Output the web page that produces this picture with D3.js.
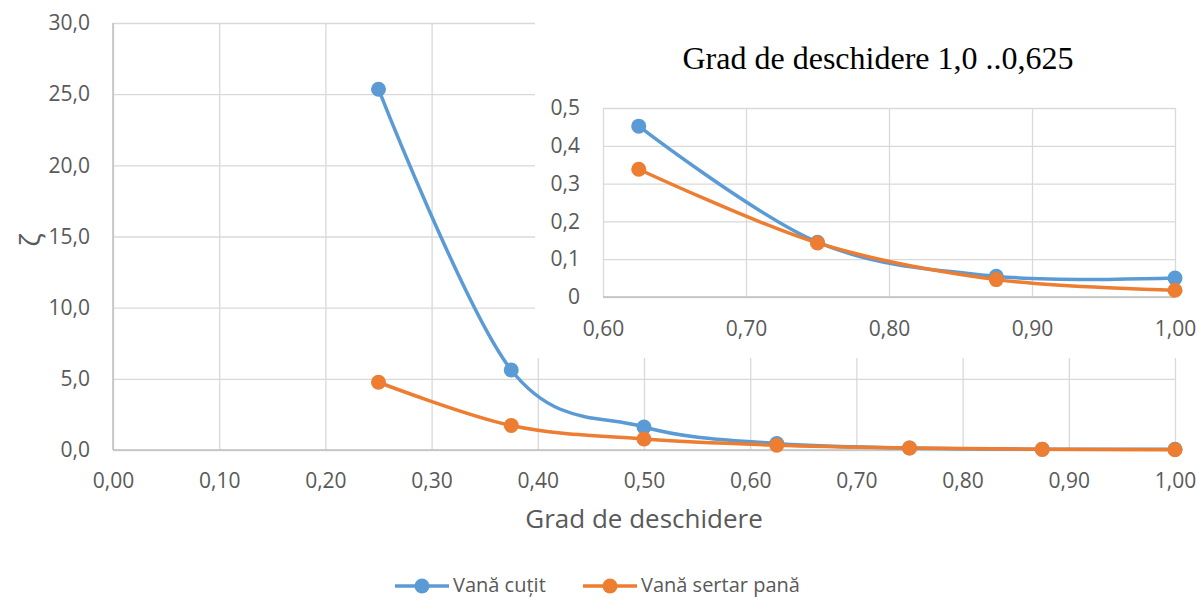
<!DOCTYPE html>
<html>
<head>
<meta charset="utf-8">
<script src="https://cdn.jsdelivr.net/npm/d3@7"></script>
<style>
  body { margin: 0; background: #fff; }
  svg { display: block; }
  .tick text { font-family: "Open Sans", sans-serif; font-size: 21px; fill: #595959; }
  .grid line { stroke: #d9d9d9; stroke-width: 1.3; }
  .domain { display: none; }
</style>
</head>
<body>
<svg id="chart" width="1197" height="598"></svg>
<script>
// data
const openDegree = [0.25, 0.375, 0.5, 0.625, 0.75, 0.875, 1.0]
const knifeValve = [25.35, 5.62, 1.62, 0.452, 0.145, 0.055, 0.05]
const wedgeValve = [4.76, 1.72, 0.77, 0.338, 0.143, 0.046, 0.018]
const insetDegree = [0.625, 0.75, 0.875, 1.0]
const insetKnife = [0.452, 0.145, 0.055, 0.05]
const insetWedge = [0.338, 0.143, 0.046, 0.018]
const seriesNames = ["Vană cuțit", "Vană sertar pană"]
const seriesColors = ["#5b9bd5", "#ed7d31"]
const mainXTicks = [0, 0.1, 0.2, 0.3, 0.4, 0.5, 0.6, 0.7, 0.8, 0.9, 1.0]
const mainYTicks = [0, 5, 10, 15, 20, 25, 30]
const insetXTicks = [0.6, 0.7, 0.8, 0.9, 1.0]
const insetYTicks = [0, 0.1, 0.2, 0.3, 0.4, 0.5]

const svg = d3.select("#chart")
const comma = f => (v => d3.format(f)(v).replace(".", ","))

// draws one line+marker series
function drawSeries(g, xs, ys, xScale, yScale, color) {
	const pts = xs.map((x, i) => [xScale(x), yScale(ys[i])])
	g.append("path")
		.attr("d", d3.line().curve(d3.curveCatmullRom.alpha(0))(pts))
		.attr("fill", "none")
		.attr("stroke", color)
		.attr("stroke-width", 3.5)
	g.selectAll(null).data(pts).join("circle")
		.attr("cx", d => d[0]).attr("cy", d => d[1])
		.attr("r", 7.5).attr("fill", color)
}

// ---- main chart
let x = d3.scaleLinear().domain([0, 1]).range([113, 1175])
let y = d3.scaleLinear().domain([0, 30]).range([450, 23])

svg.append("g").attr("class", "grid")
	.attr("transform", "translate(113,0)")
	.call(d3.axisLeft(y).tickValues(mainYTicks).tickSize(-(1175 - 113)).tickPadding(23).tickFormat(comma(".1f")))
svg.append("g").attr("class", "grid")
	.attr("transform", "translate(0,450)")
	.call(d3.axisBottom(x).tickValues(mainXTicks).tickSize(-(450 - 23)).tickPadding(23).tickFormat(comma(".2f")))
svg.append("line").attr("x1", 113).attr("x2", 1175).attr("y1", 450).attr("y2", 450)
	.attr("stroke", "#bfbfbf").attr("stroke-width", 1.5)
svg.append("line").attr("x1", 113).attr("x2", 113).attr("y1", 23).attr("y2", 450)
	.attr("stroke", "#bfbfbf").attr("stroke-width", 1.5)

const mainSeries = svg.append("g")
drawSeries(mainSeries, openDegree, knifeValve, x, y, seriesColors[0])
drawSeries(mainSeries, openDegree, wedgeValve, x, y, seriesColors[1])

svg.append("text")
	.attr("x", 644).attr("y", 528)
	.attr("text-anchor", "middle")
	.style("font-family", "Open Sans").style("font-size", "26px").style("fill", "#595959")
	.text("Grad de deschidere")
svg.append("text")
	.attr("transform", "translate(40,240) rotate(-90)")
	.attr("text-anchor", "middle")
	.style("font-family", "Open Sans").style("font-size", "28px").style("fill", "#595959")
	.text("ζ")

// ---- legend
const legend = svg.append("g")
const legendX = [395, 583]
seriesNames.forEach((name, i) => {
	const lx = legendX[i]
	legend.append("line").attr("x1", lx).attr("x2", lx + 54).attr("y1", 586).attr("y2", 586)
		.attr("stroke", seriesColors[i]).attr("stroke-width", 3.5)
	legend.append("circle").attr("cx", lx + 27).attr("cy", 586).attr("r", 7.5).attr("fill", seriesColors[i])
	legend.append("text").attr("x", lx + 58).attr("y", 592)
		.style("font-family", "Open Sans").style("font-size", "20px").style("fill", "#595959")
		.text(name)
})

// ---- inset chart
const inset = svg.append("g")
inset.append("rect").attr("x", 535).attr("y", 0).attr("width", 662).attr("height", 358).attr("fill", "#fff")

let ix = d3.scaleLinear().domain([0.6, 1]).range([603, 1175])
let iy = d3.scaleLinear().domain([0, 0.5]).range([297, 108])

inset.append("g").attr("class", "grid")
	.attr("transform", "translate(603,0)")
	.call(d3.axisLeft(iy).tickValues(insetYTicks).tickSize(-(1175 - 603)).tickPadding(23)
		.tickFormat(v => v === 0 ? "0" : comma(".1f")(v)))
inset.append("g").attr("class", "grid")
	.attr("transform", "translate(0,297)")
	.call(d3.axisBottom(ix).tickValues(insetXTicks).tickSize(-(297 - 108)).tickPadding(24).tickFormat(comma(".2f")))
inset.append("line").attr("x1", 603).attr("x2", 1175).attr("y1", 297).attr("y2", 297)
	.attr("stroke", "#bfbfbf").attr("stroke-width", 1.5)

drawSeries(inset, insetDegree, insetKnife, ix, iy, seriesColors[0])
drawSeries(inset, insetDegree, insetWedge, ix, iy, seriesColors[1])

inset.append("text")
	.attr("x", 878).attr("y", 69)
	.attr("text-anchor", "middle")
	.style("font-family", "Liberation Serif").style("font-size", "32px").style("fill", "#000")
	.text("Grad de deschidere 1,0 ..0,625")
</script>
</body>
</html>
